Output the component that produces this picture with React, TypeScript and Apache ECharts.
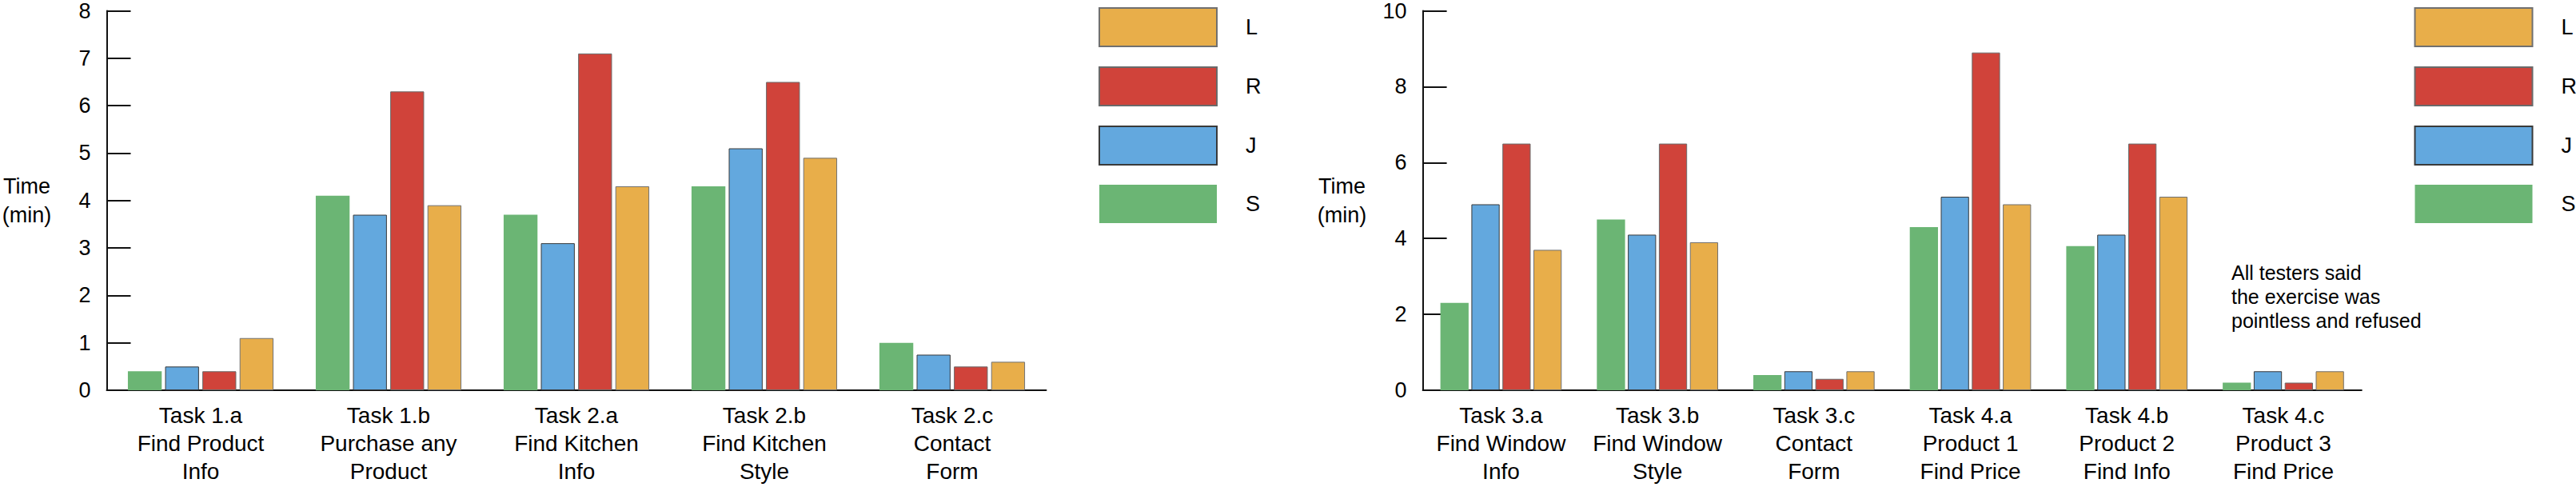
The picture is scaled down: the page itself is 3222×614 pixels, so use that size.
import React, { useEffect, useRef } from "react";
import * as echarts from "echarts";

const seriesNames = ["S", "J", "R", "L"];
const legendOrder = ["L", "R", "J", "S"];

const categoriesLeft = [
  "Task 1.a\nFind Product\nInfo",
  "Task 1.b\nPurchase any\nProduct",
  "Task 2.a\nFind Kitchen\nInfo",
  "Task 2.b\nFind Kitchen\nStyle",
  "Task 2.c\nContact\nForm",
];
const sLeft = [0.4, 4.1, 3.7, 4.3, 1.0];
const jLeft = [0.5, 3.7, 3.1, 5.1, 0.75];
const rLeft = [0.4, 6.3, 7.1, 6.5, 0.5];
const lLeft = [1.1, 3.9, 4.3, 4.9, 0.6];

const categoriesRight = [
  "Task 3.a\nFind Window\nInfo",
  "Task 3.b\nFind Window\nStyle",
  "Task 3.c\nContact\nForm",
  "Task 4.a\nProduct 1\nFind Price",
  "Task 4.b\nProduct 2\nFind Info",
  "Task 4.c\nProduct 3\nFind Price",
];
const sRight = [2.3, 4.5, 0.4, 4.3, 3.8, 0.2];
const jRight = [4.9, 4.1, 0.5, 5.1, 4.1, 0.5];
const rRight = [6.5, 6.5, 0.3, 8.9, 6.5, 0.2];
const lRight = [3.7, 3.9, 0.5, 4.9, 5.1, 0.5];

const annotation = "All testers said\nthe exercise was\npointless and refused";

const FONT = "'Liberation Sans', Arial, Helvetica, sans-serif";

const styles: Record<string, any> = {
  S: { color: "#6bb574", borderWidth: 0 },
  J: { color: "#63a8de", borderColor: "#3a3a3a", borderWidth: 1 },
  R: { color: "#d0433a", borderColor: "#6a6a6a", borderWidth: 1 },
  L: { color: "#e8ae4a", borderColor: "#707070", borderWidth: 1 },
};

export default function App() {
  const ref = useRef<HTMLDivElement>(null);
  useEffect(() => {
    if (!ref.current) return;
    const chart = echarts.init(ref.current, null, { renderer: "svg" });

    const leftData = [sLeft, jLeft, rLeft, lLeft];
    const rightData = [sRight, jRight, rRight, lRight];

    const xAxisBase = (idx: number, cats: string[]) => ({
      type: "category",
      gridIndex: idx,
      data: cats,
      axisLine: { lineStyle: { color: "#111", width: 2 } },
      axisTick: { inside: true, length: 11, lineStyle: { color: "#111", width: 2 } },
      axisLabel: {
        interval: 0,
        margin: 14,
        color: "#000",
        fontSize: 28,
        lineHeight: 35,
        fontFamily: FONT,
      },
    });

    const yAxisBase = (idx: number, max: number, interval: number, gap: number) => ({
      type: "value",
      gridIndex: idx,
      min: 0,
      max,
      interval,
      name: "Time\n(min)",
      nameLocation: "middle",
      nameRotate: 0,
      nameGap: gap,
      nameTextStyle: {
        color: "#000",
        fontSize: 27,
        lineHeight: 36,
        fontFamily: FONT,
        align: "center",
        padding: [18, 0, 0, 0],
      },
      axisLine: { show: true, lineStyle: { color: "#111", width: 2 } },
      axisTick: { show: true, inside: true, length: 30, lineStyle: { color: "#111", width: 2 } },
      splitLine: { show: false },
      axisLabel: {
        margin: 20,
        color: "#000",
        fontSize: 27,
        fontFamily: FONT,
        verticalAlign: "middle",
        padding: [16, 0, 0, 0],
      },
    });

    const makeSeries = (idx: number, data: number[][]) =>
      seriesNames.map((n, i) => ({
        name: n,
        type: "bar",
        xAxisIndex: idx,
        yAxisIndex: idx,
        data: data[i],
        barGap: "10%",
        barCategoryGap: "22.5%",
        itemStyle: styles[n],
      }));

    const legendBase = (left: number) => ({
      orient: "vertical",
      left,
      top: 9,
      padding: 0,
      data: legendOrder,
      icon: "rect",
      itemWidth: 147,
      itemHeight: 48,
      itemGap: 24,
      selectedMode: false,
      textStyle: {
        color: "#000",
        fontSize: 27,
        fontFamily: FONT,
        padding: [14, 0, 0, 31],
      },
    });

    chart.setOption({
      animation: false,
      backgroundColor: "#fff",
      textStyle: { fontFamily: FONT },
      grid: [
        { left: 133.5, top: 9, width: 1175, height: 479 },
        { left: 1779.6, top: 9, width: 1174.2, height: 479 },
      ],
      xAxis: [xAxisBase(0, categoriesLeft), xAxisBase(1, categoriesRight)],
      yAxis: [yAxisBase(0, 8, 1, 100), yAxisBase(1, 10, 2, 101)],
      legend: [legendBase(1374), legendBase(3019.5)],
      series: [...makeSeries(0, leftData), ...makeSeries(1, rightData)],
      graphic: [
        {
          type: "text",
          left: 2791,
          top: 326,
          style: {
            text: annotation,
            fontSize: 25,
            lineHeight: 30,
            fontFamily: FONT,
            fill: "#000",
          },
        },
      ],
    });

    return () => chart.dispose();
  }, []);

  return (
    <div
      ref={ref}
      style={{ position: "absolute", left: 0, top: 0, width: 3222, height: 614 }}
    />
  );
}
